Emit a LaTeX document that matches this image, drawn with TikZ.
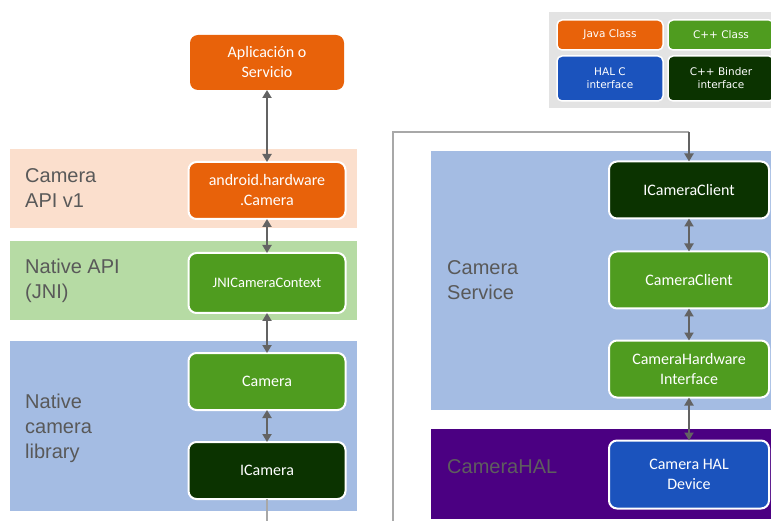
\documentclass[tikz,border=0pt]{standalone}
\usepackage{fontspec}
\setmainfont{Carlito}
\newfontfamily\lblfont{Liberation Sans}
\newfontfamily\keyfont{DejaVu Sans}
\usetikzlibrary{positioning,arrows.meta}
\definecolor{javaor}{HTML}{E8620A}
\definecolor{cppgrn}{HTML}{4F9C1F}
\definecolor{binder}{HTML}{0B3300}
\definecolor{halblue}{HTML}{1B53BD}
\definecolor{peach}{HTML}{FBDFCD}
\definecolor{jnigrn}{HTML}{B6DBA4}
\definecolor{libblue}{HTML}{A4BCE3}
\definecolor{halpur}{HTML}{4B0082}
\definecolor{keybg}{HTML}{E3E3E3}
\definecolor{lblgray}{HTML}{595959}
\definecolor{arrgray}{HTML}{636363}
\definecolor{wiregray}{HTML}{A8A8A8}
\tikzset{box/.style={rectangle,rounded corners=8pt,draw=white,line width=2pt,text=white,
           minimum width=157pt,minimum height=57pt,align=center,inner sep=2pt,outer sep=0pt,
           font=\fontsize{16}{20}\selectfont},
	 band/.style={rectangle,inner sep=0pt,outer sep=0pt,draw=none},
	 lbl/.style={anchor=west,align=left,text=lblgray,inner sep=0pt,
           font=\lblfont\fontsize{20}{25}\selectfont},
	 key/.style={rectangle,rounded corners=5pt,draw=white,line width=1.5pt,text=white,
           minimum width=106pt,minimum height=30pt,align=center,inner sep=1pt,outer sep=0pt,
           font=\keyfont\fontsize{10.5}{13}\selectfont},
	 link/.style={draw=arrgray,line width=2pt,{Triangle[width=9pt,length=8pt]}-{Triangle[width=9pt,length=8pt]}},
	 linkin/.style={draw=arrgray,line width=2pt,-{Triangle[width=9pt,length=8pt]}},
	 wire/.style={draw=wiregray,line width=1.5pt},
	 node distance = 34pt
	 }
\begin{document}
\begin{tikzpicture}[x=1pt,y=-1pt]
	\useasboundingbox (0,0) rectangle (771,521);
	% layers
	\node[band,fill=peach,minimum width=347pt,minimum height=79pt] (apiband) at (183.5,188.5) {};
	\node[band,fill=jnigrn,minimum width=347pt,minimum height=79pt] (jniband) at (183.5,280.5) {};
	\node[band,fill=libblue,minimum width=347pt,minimum height=170pt] (libband) at (183.5,426) {};
	\node[band,fill=libblue,minimum width=340pt,minimum height=259pt] (srvband) at (601,280.5) {};
	\node[band,fill=halpur,minimum width=340pt,minimum height=90pt] (halband) at (601,474) {};
	\node[lbl] (apilbl) [right=15pt of apiband.west] {Camera\\API v1};
	\node[lbl] (jnilbl) [right=15pt of jniband.west] {Native API\\(JNI)};
	\node[lbl] (liblbl) [right=15pt of libband.west,yshift=-2pt] {Native\\camera\\library};
	\node[lbl] (srvlbl) [right=16pt of srvband.west] {Camera\\Service};
	\node[lbl,text=black!63] (hallbl) [right=16pt of halband.west,yshift=7pt] {CameraHAL};
	% legend
	\node[band,fill=keybg,minimum width=222pt,minimum height=96pt] (keyarea) at (660,60) {};
	\node[key,fill=javaor] (kjava) at (610,35) {Java Class};
	\node[key,fill=cppgrn] (kcpp) [right=5pt of kjava] {C++ Class};
	\node[key,fill=halblue,minimum height=45pt] (khal) at (610,78.5) {HAL C\\interface};
	\node[key,fill=binder,minimum height=45pt] (kbinder) [right=5pt of khal] {C++ Binder\\interface};
	% left stack
	\node[box,fill=javaor,draw=none,minimum width=154pt,minimum height=55pt] (app) at (267,62.5) {Aplicación o\\Servicio};
	\node[box,fill=javaor] (ahc) [below=72pt of app] {android.hardware\\.Camera};
	\node[box,fill=cppgrn,minimum height=60pt,font=\fontsize{14.5}{18}\selectfont] (jni) [below=of ahc] {JNICameraContext};
	\node[box,fill=cppgrn] (cam) [below=40pt of jni] {Camera};
	\node[box,fill=binder] (icam) [below=32pt of cam] {ICamera};
	% right stack
	\node[box,fill=binder,minimum width=160pt] (iccl) at (689,190) {ICameraClient};
	\node[box,fill=cppgrn,minimum width=160pt] (ccl) [below=33pt of iccl] {CameraClient};
	\node[box,fill=cppgrn,minimum width=160pt] (chi) [below=32pt of ccl] {CameraHardware\\Interface};
	\node[box,fill=halblue,minimum width=160pt,minimum height=68pt] (hal) [below=43pt of chi] {Camera HAL\\Device};
	\coordinate (lend) at (267,521);
	\coordinate (rend) at (393,521);
	\coordinate (rtop) at (689,132);
	\draw[link] (app) to (ahc);
	\draw[link] (ahc) to (jni);
	\draw[link] (jni) to (cam);
	\draw[link] (cam) to (icam);
	\draw[wire] (icam) to (lend);
	\draw[wire] (rend) |- (rtop);
	\draw[linkin] (rtop) to (iccl);
	\draw[link] (iccl) to (ccl);
	\draw[link] (ccl) to (chi);
	\draw[link] (chi) to (hal);
\end{tikzpicture}
\end{document}
